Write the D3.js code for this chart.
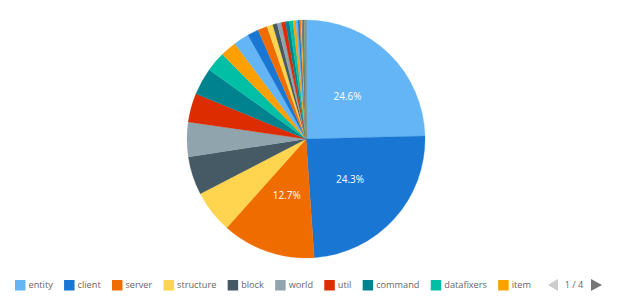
<!DOCTYPE html>
<html>
<head>
<meta charset="utf-8">
<script src="https://cdn.jsdelivr.net/npm/d3@7/dist/d3.min.js"></script>
<style>
  html, body { margin: 0; padding: 0; background: #fff; }
  svg { display: block; font-family: "Open Sans", sans-serif; }
</style>
</head>
<body>
<div id="chart"></div>
<script>
  'use strict';

  // package share of the code base (percent)
  const categories = [
    'entity', 'client', 'server', 'structure', 'block', 'world', 'util', 'command', 'datafixers', 'item',
    'recipe', 'network', 'advancement', 'data', 'sound', 'loot', 'stat', 'tag', 'resource', 'nbt',
    'state', 'village', 'inventory', 'particle', 'scoreboard', 'potion', 'enchantment', 'fluid', 'gametest', 'realms',
    'locale', 'profiler', 'crash', 'obfuscate', 'text', 'screen'
  ];
  const values = [
    24.6, 24.3, 12.7, 5.8, 5.2, 4.7, 3.9, 3.7, 2.7, 2.2,
    2.1, 1.5, 1.3, 0.8, 0.6, 0.58, 0.56, 0.52, 0.5, 0.37,
    0.28, 0.25, 0.16, 0.12, 0.1, 0.08, 0.07, 0.06, 0.05, 0.045,
    0.04, 0.035, 0.03, 0.02, 0.02, 0.015
  ];
  const palette = ['#64B5F6', '#1976D2', '#EF6C00', '#FFD54F', '#455A64',
                   '#90A4AE', '#DD2C00', '#00838F', '#00BFA5', '#FFA000'];
  const pageSize = 10;
  const page = 1;

  const width = 620, height = 300;
  const cx = 306, cy = 139, radius = 119;

  const data = categories.map((name, i) => ({ name: name, value: values[i] }));
  const total = d3.sum(values);

  const color = d3.scaleOrdinal().domain(categories).range(palette);

  const svg = d3.select('#chart').append('svg')
    .attr('width', width)
    .attr('height', height);

  const pie = d3.pie().value(d => d.value).sort(null);
  const arc = d3.arc().innerRadius(0).outerRadius(radius);
  const labelArc = d3.arc().innerRadius(radius / 2).outerRadius(radius / 2);

  const g = svg.append('g').attr('transform', `translate(${cx},${cy})`);
  const arcs = pie(data);

  g.selectAll('path')
    .data(arcs)
    .enter()
    .append('path')
    .attr('d', arc)
    .attr('fill', d => color(d.data.name))
    .attr('stroke', d => color(d.data.name))
    .attr('stroke-width', 0.3);

  g.selectAll('text')
    .data(arcs.filter(d => d.data.value / total > 0.1))
    .enter()
    .append('text')
    .attr('transform', d => `translate(${labelArc.centroid(d)})`)
    .attr('text-anchor', 'middle')
    .attr('dy', '0.35em')
    .attr('fill', '#fff')
    .attr('font-size', '10px')
    .text(d => (d.data.value / total * 100).toFixed(1) + '%');

  // legend, first page only
  const legendY = 285;
  const shown = data.slice((page - 1) * pageSize, page * pageSize);
  const legend = svg.append('g');
  let x = 15;
  shown.forEach(d => {
    const item = legend.append('g').attr('transform', `translate(${x},${legendY})`);
    item.append('rect')
      .attr('x', 0).attr('y', -5)
      .attr('width', 10.5).attr('height', 10.5)
      .attr('fill', color(d.name));
    const t = item.append('text')
      .attr('x', 13.5).attr('dy', '0.35em')
      .attr('font-size', '9.2px')
      .attr('fill', '#666')
      .text(d.name);
    x += 13.5 + t.node().getComputedTextLength() + 11.3;
  });

  const pages = Math.ceil(data.length / pageSize);
  const nav = svg.append('g');
  nav.append('path')
    .attr('d', `M558,${legendY - 6}L548,${legendY}L558,${legendY + 6}Z`)
    .attr('fill', page === 1 ? '#ccc' : '#777');
  nav.append('text')
    .attr('x', 574).attr('y', legendY).attr('dy', '0.35em')
    .attr('text-anchor', 'middle')
    .attr('font-size', '9.2px')
    .attr('fill', '#666')
    .text(`${page} / ${pages}`);
  nav.append('path')
    .attr('d', `M591,${legendY - 6}L602,${legendY}L591,${legendY + 6}Z`)
    .attr('fill', page === pages ? '#ccc' : '#777');
</script>
</body>
</html>
